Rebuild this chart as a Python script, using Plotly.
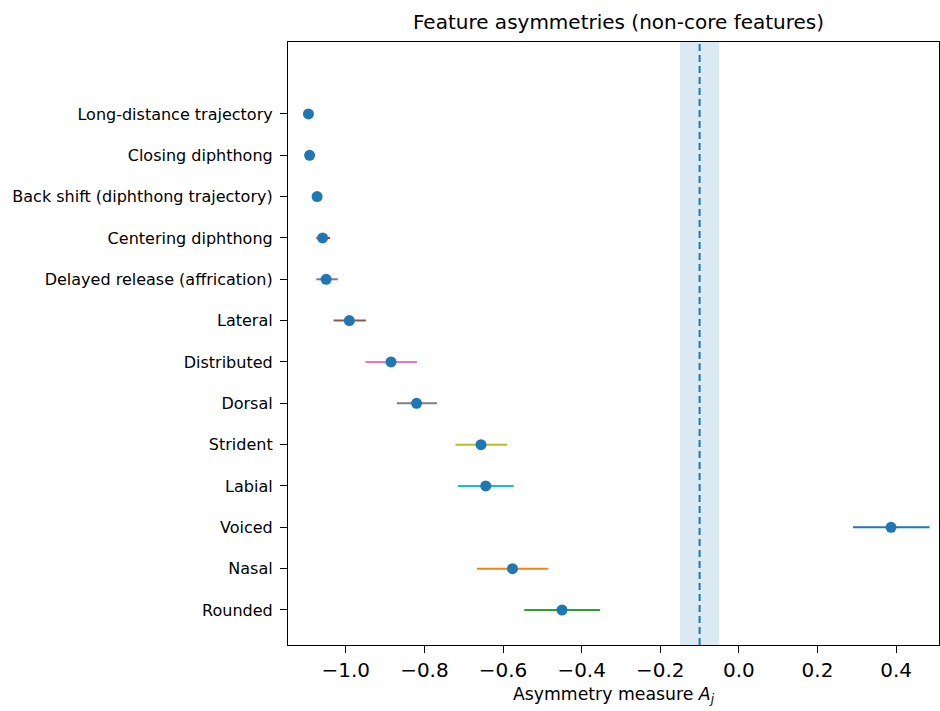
import plotly.graph_objects as go

features = [
    "Rounded", "Nasal", "Voiced", "Labial", "Strident", "Dorsal",
    "Distributed", "Lateral", "Delayed release (affrication)",
    "Centering diphthong", "Back shift (diphthong trajectory)",
    "Closing diphthong", "Long-distance trajectory",
]
means = [-0.450, -0.576, 0.387, -0.644, -0.656, -0.820, -0.885, -0.991,
         -1.050, -1.059, -1.073, -1.092, -1.095]
lows = [-0.546, -0.666, 0.290, -0.715, -0.721, -0.870, -0.950, -1.031,
        -1.075, -1.075, -1.080, -1.096, -1.097]
highs = [-0.353, -0.485, 0.485, -0.573, -0.590, -0.768, -0.819, -0.949,
         -1.020, -1.040, -1.066, -1.088, -1.093]
bar_colors = ["#2ca02c", "#ff7f0e", "#1f77b4", "#17becf", "#bcbd22", "#7f7f7f",
              "#e377c2", "#8c564b", "#9467bd", "#d62728", "#2ca02c",
              "#ff7f0e", "#1f77b4"]
ref_value = -0.1
band_low, band_high = -0.15, -0.05
x_ticks = [-1.0, -0.8, -0.6, -0.4, -0.2, 0.0, 0.2, 0.4]
x_tick_text = ["\u22121.0", "\u22120.8", "\u22120.6", "\u22120.4", "\u22120.2", "0.0", "0.2", "0.4"]

ypos = list(range(len(features)))

fig = go.Figure()
for i, f in enumerate(features):
    fig.add_trace(go.Scatter(
        x=[lows[i], highs[i]], y=[ypos[i], ypos[i]], mode="lines",
        line=dict(color=bar_colors[i], width=2), showlegend=False, hoverinfo="skip"))
fig.add_trace(go.Scatter(
    x=means, y=ypos, mode="markers",
    marker=dict(color="#1f77b4", size=11, line=dict(width=0)),
    showlegend=False))

fig.add_vrect(x0=band_low, x1=band_high, fillcolor="#1f77b4", opacity=0.16,
              line_width=0, layer="below")
fig.add_vline(x=ref_value, line=dict(color="#1f77b4", width=2, dash="7px,4px"))

font = "DejaVu Sans"
fig.update_layout(
    width=940, height=711,
    margin=dict(l=288, r=1, t=42, b=66),
    paper_bgcolor="white", plot_bgcolor="white",
    font=dict(family=font, color="black"),
    title=dict(text="Feature asymmetries (non-core features)", x=0.658, xanchor="center",
               y=0.969, yanchor="middle", font=dict(size=20, family=font)),
)
fig.update_xaxes(
    range=[-1.147, 0.509], tickvals=x_ticks, ticktext=x_tick_text,
    ticks="outside", ticklen=7, tickwidth=1.2, tickcolor="black",
    showline=True, linecolor="black", linewidth=1.2, mirror=True,
    showgrid=False, zeroline=False, tickfont=dict(size=20),
    title=dict(text="Asymmetry measure <i>A</i><sub><i>j</i></sub>", font=dict(size=17.3), standoff=6),
)
fig.update_yaxes(
    range=[-0.847, 13.74], tickvals=ypos, ticktext=features,
    ticks="outside", ticklen=7, tickwidth=1.2, tickcolor="black",
    showline=True, linecolor="black", linewidth=1.2, mirror=True,
    showgrid=False, zeroline=False, tickfont=dict(size=16), ticklabelstandoff=4,
)
fig.write_html(
    "out.html",
    config={"displayModeBar": False},
    post_script="document.body.style.margin='0';document.body.style.overflow='hidden';",
)
